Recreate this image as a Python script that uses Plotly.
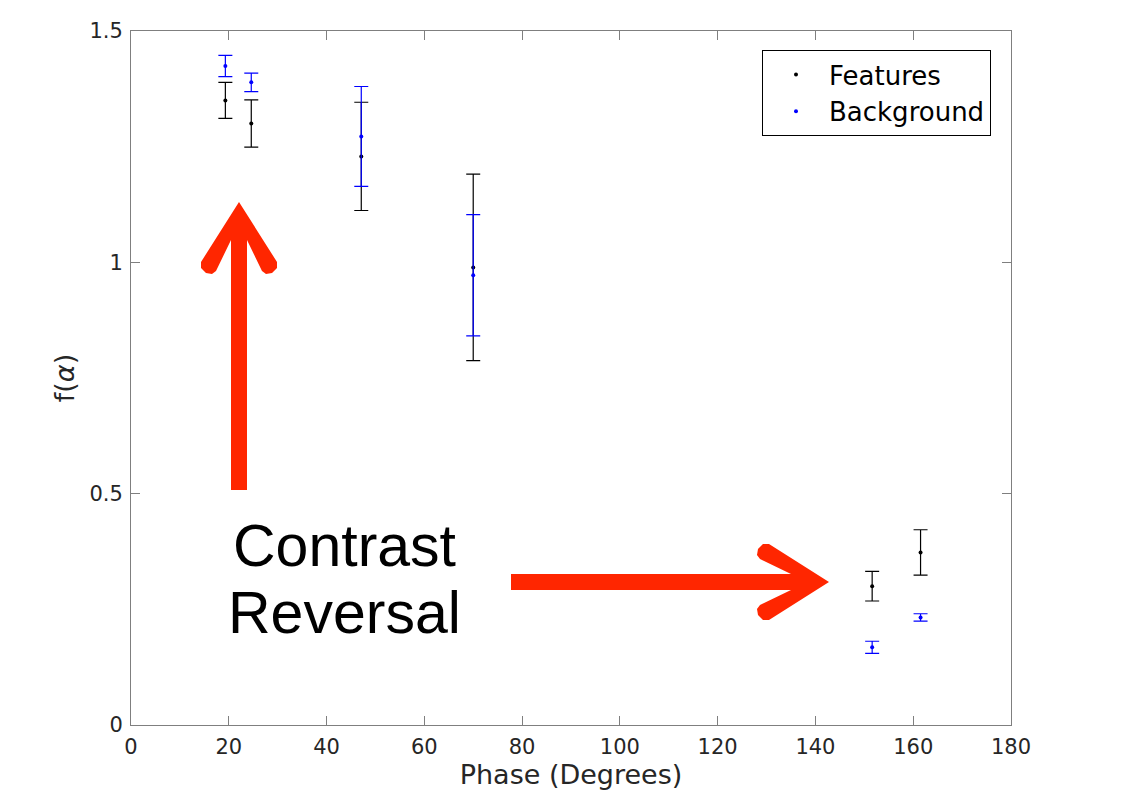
import plotly.graph_objects as go

# Data
phase = [19.3, 24.6, 47.1, 70.0, 151.6, 161.5]
features = [1.350, 1.300, 1.229, 0.989, 0.300, 0.373]
features_err = [0.039, 0.051, 0.117, 0.2015, 0.032, 0.049]
background = [1.4245, 1.389, 1.272, 0.972, 0.168, 0.2324]
background_err = [0.023, 0.020, 0.108, 0.131, 0.013, 0.008]

x_ticks = [0, 20, 40, 60, 80, 100, 120, 140, 160, 180]
y_ticks = [0, 0.5, 1, 1.5]
y_tick_text = ["0", "0.5", "1", "1.5"]

W, H = 1123, 803
# plot area in reference pixels: x 130..1010, y 30..725 (page has an offset)
PL, PT, PW, PH = 130, 30, 880, 694
OX, OY = 7, 7
L, T = PL - OX, PT - OY
R, B = W - L - PW, H - T - PH

fig = go.Figure()
fig.add_trace(go.Scatter(
    x=phase, y=features, mode="markers", name="Features",
    marker=dict(color="black", size=4),
    error_y=dict(type="data", array=features_err, color="black", thickness=1.2, width=7),
))
fig.add_trace(go.Scatter(
    x=phase, y=background, mode="markers", name="Background",
    marker=dict(color="#0000ff", size=4),
    error_y=dict(type="data", array=background_err, color="#0000ff", thickness=1.2, width=7),
))


def px2paper(px, py):
    return (px - PL) / PW, (PT + PH - py) / PH


def arrow_path(tip, direction, length):
    dx, dy = direction
    nx, ny = -dy, dx
    local = [(0, 0), (60, 38), (66, 38), (71, 33), (72, 27), (69, 23), (38, 8),
             (length, 8), (length, -8), (38, -8), (69, -23), (72, -27), (71, -33),
             (66, -38), (60, -38)]
    pts = []
    for u, v in local:
        px = tip[0] - dx * u + nx * v
        py = tip[1] - dy * u + ny * v
        pts.append(px2paper(px, py))
    return "M " + " L ".join(f"{a:.5f},{b:.5f}" for a, b in pts) + " Z"


red = "#ff2600"
fig.add_shape(type="path", xref="paper", yref="paper",
              path=arrow_path((238, 201), (0, -1), 288),
              fillcolor=red, line=dict(width=0), layer="above")
fig.add_shape(type="path", xref="paper", yref="paper",
              path=arrow_path((828, 581), (1, 0), 318),
              fillcolor=red, line=dict(width=0), layer="above")

for txt, py in [("Contrast", 545), ("Reversal", 612)]:
    xp, yp = px2paper(343, py)
    fig.add_annotation(x=xp, y=yp, xref="paper", yref="paper", text=txt,
                       showarrow=False, xanchor="center", yanchor="middle",
                       font=dict(family="Liberation Sans, Arial", size=59, color="black"))

lx, ly = px2paper(990, 49)

axis_common = dict(
    showgrid=False, zeroline=False, showline=True, linecolor="#7f7f7f", linewidth=1,
    mirror="ticks", ticks="inside", ticklen=9, tickcolor="#7f7f7f",
    tickfont=dict(family="DejaVu Sans", size=21, color="#262626"),
    ticklabelstandoff=3,
)

fig.update_layout(
    width=W, height=H,
    margin=dict(l=L, r=R, t=T, b=B),
    paper_bgcolor="white", plot_bgcolor="white",
    font=dict(family="DejaVu Sans", color="#262626"),
    xaxis=dict(range=[0, 180], tickvals=x_ticks,
               title=dict(text="Phase (Degrees)", font=dict(size=27, color="#262626"), standoff=6),
               **axis_common),
    yaxis=dict(range=[0, 1.5], tickvals=y_ticks, ticktext=y_tick_text,
               title=dict(text="f(<i>α</i>)", font=dict(size=27, color="#262626"), standoff=6),
               **axis_common),
    legend=dict(x=lx, y=ly, xanchor="right", yanchor="top",
                bordercolor="black", borderwidth=1, bgcolor="white",
                font=dict(family="DejaVu Sans", size=26, color="black"),
                itemwidth=56, itemsizing="trace", tracegroupgap=0),
    showlegend=True,
)

fig.write_html("out.html")
